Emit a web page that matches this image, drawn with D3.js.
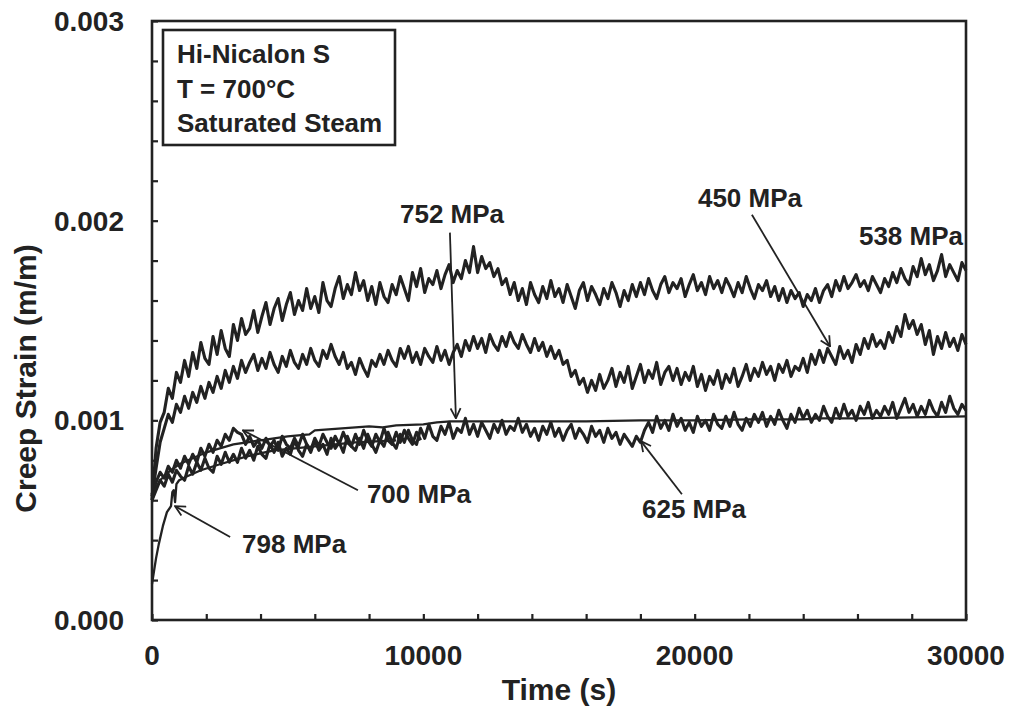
<!DOCTYPE html>
<html>
<head>
<meta charset="utf-8">
<script src="https://cdn.jsdelivr.net/npm/d3@7"></script>
<style>
  body { margin: 0; background: #fff; }
  text { font-family: "Liberation Sans", Arial, sans-serif; font-weight: bold; fill: #222; }
</style>
</head>
<body>
<script>
// creep strain readings, in units of 1e-4 m/m, sampled every 150 s
const sampleStep = 150;

const strain538 = [
  6.0, 8.6, 9.9, 10.4, 11.6, 11.1, 12.4, 11.9, 13.0, 12.2,
  13.4, 12.6, 13.9, 13.1, 12.8, 14.2, 13.3, 14.5, 13.6, 13.2,
  14.8, 14.0, 15.1, 14.3, 14.6, 15.5, 14.4, 15.2, 15.9, 14.8,
  15.6, 16.1, 15.0, 15.8, 16.4, 15.3, 16.0, 15.5, 16.6, 15.6,
  16.2, 15.4, 16.9, 16.0, 15.7, 16.6, 17.2, 16.1, 16.8, 16.3,
  17.4, 16.5, 17.0, 16.0, 16.7, 15.8, 16.9, 16.2, 15.9, 16.8,
  16.3, 17.2, 16.6, 16.0, 17.4, 16.7, 17.6, 16.4, 17.1, 16.8,
  17.5, 16.6, 17.3, 17.8, 16.9, 17.5, 17.1, 18.0, 17.4, 18.7,
  17.4, 18.2, 17.6, 17.9, 17.2, 17.6, 16.8, 17.1, 16.3, 16.9,
  16.0, 16.6, 15.8, 16.9, 16.3, 15.9, 16.7, 16.1, 17.0, 16.2,
  16.6, 15.9, 16.8, 16.2, 15.6, 16.5, 16.9, 16.0, 16.7, 16.3,
  15.8, 16.6, 16.1, 16.9, 16.4, 15.7, 16.5, 16.0, 16.8, 16.2,
  16.9, 16.3, 17.1, 16.5, 16.1, 16.8, 17.2, 16.4, 16.9, 16.6,
  17.1, 16.2, 16.8, 17.3, 16.5, 16.9, 16.3, 17.2, 16.6, 17.0,
  16.4, 17.1, 16.7, 16.2, 16.9, 16.4, 17.2, 16.6, 16.1, 16.8,
  16.5, 17.0, 16.2, 16.7, 16.0, 16.6, 15.9, 16.5, 16.1, 16.4,
  15.7, 16.3, 16.0, 16.6, 15.9, 16.5, 16.8, 16.2, 17.0, 16.5,
  17.2, 16.6, 16.9, 17.3, 16.7, 17.0, 16.5, 17.2, 16.8, 16.4,
  17.1, 16.7, 17.4, 16.9, 17.6, 17.1, 16.8, 17.7, 17.2, 18.1,
  17.3, 17.8, 17.0, 17.5, 18.3, 17.2, 17.8, 17.4, 17.0, 17.9,
  17.5
];

const strain450 = [
  6.2, 7.6, 8.9, 9.6, 10.3, 9.9, 10.8, 10.4, 11.2, 10.6,
  11.4, 10.9, 11.7, 11.1, 11.9, 11.4, 12.2, 11.6, 12.5, 11.9,
  12.7, 12.1, 13.0, 12.4, 12.9, 13.3, 12.5, 13.1, 12.6, 13.4,
  12.8, 12.4, 13.2, 12.7, 13.5, 12.9, 12.6, 13.3, 12.8, 13.6,
  13.0, 12.7, 13.5, 13.1, 13.8, 13.2, 12.8, 13.4, 12.6, 12.9,
  12.3, 13.1, 12.6, 12.2, 13.0, 12.7, 13.3, 12.8, 13.5, 13.0,
  12.7, 13.6, 13.1, 13.7, 12.9, 13.4, 12.8, 13.6, 13.2, 12.9,
  13.7, 13.0, 13.5, 12.8, 13.4, 13.8, 13.2, 14.0, 13.5, 14.2,
  13.6, 14.1, 13.4, 14.3, 13.8, 13.5, 14.2, 13.7, 14.4, 13.9,
  13.6, 14.3, 13.8, 13.4, 14.1, 13.5, 13.9, 13.2, 13.7, 13.1,
  13.5, 12.8, 13.0, 12.2, 12.5, 11.8, 12.1, 11.4, 12.0, 11.5,
  12.3, 11.6, 12.0, 12.6, 11.7, 12.4, 11.9, 12.7, 11.6, 12.2,
  12.8, 11.9, 12.5, 12.1, 12.9, 11.8, 12.4, 12.7, 12.0, 12.6,
  11.8, 12.4, 12.0, 12.7, 11.7, 12.3, 11.5, 12.2, 11.8, 12.5,
  11.6, 12.3, 11.9, 12.6, 11.7, 12.2, 12.8, 12.0, 12.6, 12.2,
  12.9, 12.3, 12.7, 12.0, 12.8, 12.4, 13.0, 12.2, 12.7, 12.5,
  13.1, 12.4, 13.3, 12.8, 13.5, 12.9, 13.6, 13.2, 12.8, 13.7,
  13.1, 13.5, 12.9, 13.8, 13.3, 14.1, 13.6, 14.3, 13.7, 14.0,
  13.6, 14.4, 13.9, 14.7, 14.2, 15.3, 14.6, 15.0, 14.3, 14.8,
  13.8, 14.5, 13.3, 14.2, 13.6, 14.4, 13.7, 14.1, 13.5, 14.3,
  13.8
];

const strain625 = [
  6.0, 6.5, 7.0, 6.7, 7.3, 6.9, 7.5, 7.2, 7.0, 7.7,
  7.3, 7.9, 7.5, 8.1, 7.6, 7.4, 8.2, 7.8, 8.4, 7.9,
  8.3, 7.9, 8.6, 8.1, 8.5, 8.0, 8.7, 8.3, 8.1, 8.8,
  8.4, 8.9, 8.2, 8.6, 8.3, 9.0, 8.5, 8.2, 8.8, 8.4,
  9.0, 8.5, 8.8, 8.3, 9.1, 8.6, 8.9, 8.4, 9.2, 8.7,
  8.5, 9.1, 8.6, 9.3, 8.8, 8.4, 9.0, 8.7, 9.4, 8.9,
  8.6, 9.3, 8.9, 9.5, 9.0, 8.8, 9.6, 9.1, 9.8, 9.2,
  9.0, 9.7, 9.3, 9.9, 9.1, 9.6, 9.4, 10.1, 9.3, 9.8,
  9.2, 9.9, 9.5, 9.1, 9.8, 9.4, 10.0, 9.3, 9.7, 9.5,
  10.1, 9.4, 9.8, 9.2, 9.6, 9.0, 9.7, 9.3, 9.9, 9.2,
  9.6, 9.0, 9.5, 9.8, 9.1, 9.6, 9.3, 8.9, 9.7, 9.2,
  9.5, 8.9, 9.6, 9.1, 9.4, 8.8, 9.3, 9.0, 8.7, 9.2,
  8.9, 9.5, 9.9, 9.4, 10.2, 9.6, 10.0, 9.5, 10.3, 9.7,
  10.1, 9.5, 9.9, 9.4, 10.2, 9.7, 10.0, 9.5, 10.3, 9.8,
  9.6, 10.2, 9.7, 10.4, 9.8, 9.5, 10.1, 9.7, 10.3, 9.9,
  10.4, 9.7, 10.2, 9.8, 10.5, 10.0, 9.6, 10.3, 9.9, 10.6,
  10.1, 10.5, 9.9, 10.3, 10.0, 10.7, 10.2, 9.9, 10.6, 10.1,
  10.8, 10.2, 10.5, 10.0, 10.7, 10.3, 10.9, 10.1, 10.5, 10.2,
  10.7, 10.3, 10.9, 10.1, 10.6, 11.1, 10.4, 10.8, 10.2, 10.7,
  10.3, 11.0, 10.5, 10.2, 10.9, 10.4, 11.2, 10.6, 10.3, 10.8,
  10.5
];

const strain700 = [
  6.3, 6.9, 7.4, 7.1, 7.7, 7.4, 8.0, 7.6, 8.2, 7.8,
  8.3, 7.9, 8.6, 8.2, 8.8, 8.4, 9.0, 8.7, 9.3, 9.0,
  9.6, 9.4, 9.3, 8.8, 9.2, 8.7, 9.0, 8.6, 9.1, 8.7,
  9.0, 8.5, 9.2, 8.8, 8.6, 9.1, 8.7, 9.3, 8.8, 8.5,
  9.1, 8.7, 9.3, 8.9, 8.6, 9.2, 8.8, 9.4, 8.9, 8.7,
  9.3, 8.8, 9.5, 9.0, 8.7, 9.3, 8.9, 9.6, 9.0, 8.8,
  9.4, 8.9, 9.5, 9.1, 8.8, 9.4, 9.0
];

// smoother traces with their own time stamps (s)
const time752 = [0, 100, 300, 600, 1000, 1500, 2000, 2500, 3000, 4000, 5000, 5800, 6000, 7000, 8000, 8500,
  9000, 10000, 10500, 11000, 12000, 14000, 16000, 18000, 19000, 20000, 22000, 24000, 24500, 26000, 28000, 30000];
const strain752 = [5.9, 6.5, 7.0, 7.4, 7.8, 8.1, 8.4, 8.6, 8.8, 9.0, 9.2, 9.3, 9.5, 9.6, 9.7, 9.65,
  9.75, 9.8, 9.9, 9.95, 9.95, 9.95, 9.95, 10.0, 10.0, 10.0, 10.05, 10.05, 10.1, 10.1, 10.15, 10.2];

const time798 = [0, 80, 150, 250, 400, 550, 700, 750, 800, 850, 900, 1000, 1300, 1800, 2500, 3500, 4500, 6000, 7500, 9000];
const strain798 = [1.8, 2.5, 3.1, 3.8, 4.7, 5.4, 5.7, 6.4, 6.5, 5.9, 6.8, 7.0, 7.2, 7.5, 7.8, 8.2, 8.5, 8.7, 8.9, 9.0];

// axis ticks
const xTickLabels = [0, 10000, 20000, 30000];
const yTickLabels = [0, 0.001, 0.002, 0.003];
const legendLines = ["Hi-Nicalon S", "T = 700\u00B0C", "Saturated Steam"];

// stress labels with arrows, in data units
const stressLabels = [
  { text: "752 MPa", t: 9140, s: 0.00199, anchor: "start", arrow: [10980, 0.00194, 11200, 0.00101] },
  { text: "450 MPa", t: 20120, s: 0.00207, anchor: "start", arrow: [22110, 0.00203, 24990, 0.00137] },
  { text: "538 MPa", t: 29890, s: 0.00188, anchor: "end", arrow: null },
  { text: "700 MPa", t: 7920, s: 0.000586, anchor: "start", arrow: [7590, 0.00065, 3350, 0.00095] },
  { text: "798 MPa", t: 3320, s: 0.000336, anchor: "start", arrow: [2880, 0.000416, 850, 0.00057] },
  { text: "625 MPa", t: 18060, s: 0.000511, anchor: "start", arrow: [19530, 0.00063, 18020, 0.000896] }
];

// constant for svg
const margin = { top: 21, right: 45, bottom: 98, left: 152 };
const width = 1011 - margin.left - margin.right;
const height = 718 - margin.top - margin.bottom;
const ink = "#222";

const svg = d3.select("body")
  .append("svg")
  .attr("width", 1011)
  .attr("height", 718)
  .append("g")
  .attr("transform", "translate(" + margin.left + "," + margin.top + ")");

const x = d3.scaleLinear().domain([0, 30000]).range([0, width]);
const y = d3.scaleLinear().domain([0, 0.003]).range([height, 0]);

// build series
const sampled = arr => arr.map((v, i) => ({ t: i * sampleStep, s: v / 1e4 }));
const stamped = (ts, vs) => ts.map((t, i) => ({ t: t, s: vs[i] / 1e4 }));
const series = [
  { name: "538", data: sampled(strain538) },
  { name: "450", data: sampled(strain450) },
  { name: "625", data: sampled(strain625) },
  { name: "700", data: sampled(strain700) },
  { name: "752", data: stamped(time752, strain752) },
  { name: "798", data: stamped(time798, strain798) }
];

const line = d3.line().x(d => x(d.t)).y(d => y(d.s));

svg.selectAll(".curve")
  .data(series)
  .enter()
  .append("path")
  .attr("class", "curve")
  .attr("d", d => line(d.data))
  .style("fill", "none")
  .style("stroke", ink)
  .style("stroke-width", d => (d.name === "752" || d.name === "798") ? 2.3 : 3.1)
  .style("stroke-linejoin", "round");

// axes with inward ticks
const xAxis = d3.axisBottom(x).tickValues(d3.range(0, 30001, 2000)).tickSize(-6).tickFormat("");
const yAxis = d3.axisLeft(y).tickValues(d3.range(0, 0.00301, 0.0002)).tickSize(-6).tickFormat("");

svg.append("g").attr("transform", "translate(0," + height + ")").call(xAxis);
svg.append("g").call(yAxis);
svg.selectAll(".domain").remove();
svg.selectAll(".tick line").style("stroke", ink).style("stroke-width", 2.2);

// frame
svg.append("rect")
  .attr("width", width)
  .attr("height", height)
  .style("fill", "none")
  .style("stroke", ink)
  .style("stroke-width", 2.6);

// tick labels
svg.selectAll(".xlab")
  .data(xTickLabels)
  .enter()
  .append("text")
  .attr("x", d => x(d))
  .attr("y", height + 45)
  .attr("text-anchor", "middle")
  .style("font-size", "28px")
  .text(d => d);

svg.selectAll(".ylab")
  .data(yTickLabels)
  .enter()
  .append("text")
  .attr("x", -28)
  .attr("y", d => y(d) + 10)
  .attr("text-anchor", "end")
  .style("font-size", "28px")
  .text(d => d.toFixed(3));

// axis titles
svg.append("text")
  .attr("x", width / 2)
  .attr("y", height + 80)
  .attr("text-anchor", "middle")
  .style("font-size", "30px")
  .text("Time (s)");

svg.append("text")
  .attr("transform", "translate(-116," + (height / 2 + 58) + ") rotate(-90)")
  .attr("text-anchor", "middle")
  .style("font-size", "30px")
  .text("Creep Strain (m/m)");

// legend box
const legend = svg.append("g").attr("transform", "translate(11,9)");
legend.append("rect")
  .attr("width", 232)
  .attr("height", 115)
  .style("fill", "#fff")
  .style("stroke", ink)
  .style("stroke-width", 2.6);
legend.selectAll("text")
  .data(legendLines)
  .enter()
  .append("text")
  .attr("x", 14)
  .attr("y", (d, i) => 33 + i * 34.5)
  .style("font-size", "26px")
  .text(d => d);

// arrowhead
svg.append("defs").append("marker")
  .attr("id", "head")
  .attr("viewBox", "0 0 12 12")
  .attr("refX", 11)
  .attr("refY", 6)
  .attr("markerWidth", 12)
  .attr("markerHeight", 12)
  .attr("markerUnits", "userSpaceOnUse")
  .attr("orient", "auto")
  .append("path")
  .attr("d", "M1,1 L11,6 L1,11")
  .style("fill", "none")
  .style("stroke", ink)
  .style("stroke-width", 1.8);

svg.selectAll(".arrow")
  .data(stressLabels.filter(d => d.arrow))
  .enter()
  .append("line")
  .attr("x1", d => x(d.arrow[0]))
  .attr("y1", d => y(d.arrow[1]))
  .attr("x2", d => x(d.arrow[2]))
  .attr("y2", d => y(d.arrow[3]))
  .style("stroke", ink)
  .style("stroke-width", 1.8)
  .attr("marker-end", "url(#head)");

svg.selectAll(".stress")
  .data(stressLabels)
  .enter()
  .append("text")
  .attr("x", d => x(d.t))
  .attr("y", d => y(d.s))
  .attr("text-anchor", d => d.anchor)
  .style("font-size", "26px")
  .text(d => d.text);
</script>
</body>
</html>
